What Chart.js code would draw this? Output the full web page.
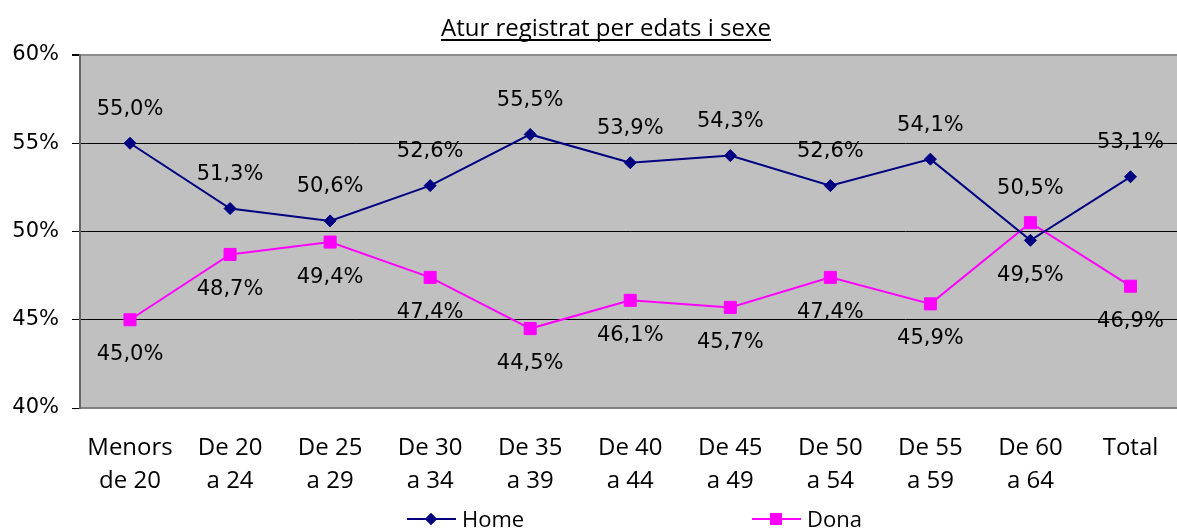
<!DOCTYPE html>
<html>
<head>
<meta charset="utf-8">
<script src="https://cdn.jsdelivr.net/npm/chart.js@4.4.1/dist/chart.umd.min.js"></script>
<style>
  html, body { margin: 0; padding: 0; background: #fff; overflow: hidden; }
  #wrap { position: relative; width: 1190px; height: 532px; }
</style>
</head>
<body>
<div id="wrap"><canvas id="chart" width="1190" height="532"></canvas></div>
<script>
var categories = [
  ['Menors', 'de 20'], ['De 20', 'a 24'], ['De 25', 'a 29'], ['De 30', 'a 34'],
  ['De 35', 'a 39'], ['De 40', 'a 44'], ['De 45', 'a 49'], ['De 50', 'a 54'],
  ['De 55', 'a 59'], ['De 60', 'a 64'], 'Total'
];
var homeValues = [55.0, 51.3, 50.6, 52.6, 55.5, 53.9, 54.3, 52.6, 54.1, 49.5, 53.1];
var donaValues = [45.0, 48.7, 49.4, 47.4, 44.5, 46.1, 45.7, 47.4, 45.9, 50.5, 46.9];
var yTicks = [40, 45, 50, 55, 60];
var chartTitle = 'Atur registrat per edats i sexe';
var seriesNames = ['Home', 'Dona'];

var NAVY = '#000080';
var MAGENTA = '#FF00FF';
var labelFont = '21px "DejaVu Sans", Verdana, sans-serif';
var textFont = '"Open Sans", sans-serif';

function fmt(v) {
  return v.toFixed(1).replace('.', ',') + '%';
}

// grey plot background
var plotBg = {
  id: 'plotBg',
  beforeDraw: function (chart) {
    var a = chart.chartArea, ctx = chart.ctx;
    ctx.save();
    ctx.fillStyle = '#C0C0C0';
    ctx.fillRect(a.left, a.top, a.right - a.left, a.bottom - a.top);
    ctx.restore();
  }
};

// value labels: Home above, Dona below (swapped where the lines cross)
var valueLabels = {
  id: 'valueLabels',
  afterDatasetsDraw: function (chart) {
    var ctx = chart.ctx;
    ctx.save();
    ctx.font = labelFont;
    ctx.fillStyle = '#000';
    ctx.textAlign = 'center';
    ctx.textBaseline = 'middle';
    chart.data.datasets.forEach(function (ds, di) {
      var meta = chart.getDatasetMeta(di);
      meta.data.forEach(function (pt, i) {
        var other = chart.data.datasets[1 - di].data[i];
        var above = ds.data[i] >= other;
        var dy = above ? -34 : 35;
        ctx.fillText(fmt(ds.data[i]), pt.x, pt.y + dy);
      });
    });
    ctx.restore();
  }
};

// underlined title and bottom legend
var titleLegend = {
  id: 'titleLegend',
  afterDraw: function (chart) {
    var ctx = chart.ctx;
    ctx.save();
    ctx.fillStyle = '#000';
    ctx.font = '500 24px ' + textFont;
    ctx.textAlign = 'center';
    ctx.textBaseline = 'alphabetic';
    var tx = 606, ty = 36;
    ctx.fillText(chartTitle, tx, ty);
    var w = ctx.measureText(chartTitle).width;
    ctx.fillRect(tx - w / 2, ty + 3, w, 2);

    var items = [
      { x: 407, color: NAVY, style: 'rectRot', r: 6, text: seriesNames[0] },
      { x: 752, color: MAGENTA, style: 'rect', r: 8.5, text: seriesNames[1] }
    ];
    var ly = 519;
    items.forEach(function (it) {
      ctx.strokeStyle = it.color;
      ctx.lineWidth = 2;
      ctx.beginPath();
      ctx.moveTo(it.x, ly);
      ctx.lineTo(it.x + 49, ly);
      ctx.stroke();
      ctx.fillStyle = it.color;
      Chart.helpers.drawPoint(ctx, { pointStyle: it.style, radius: it.r, borderWidth: 0 }, it.x + 24, ly);
      ctx.fill();
      ctx.fillStyle = '#000';
      ctx.font = '500 22px ' + textFont;
      ctx.textAlign = 'left';
      ctx.textBaseline = 'middle';
      ctx.fillText(it.text, it.x + 55, ly + 2);
    });
    ctx.restore();
  }
};

new Chart(document.getElementById('chart').getContext('2d'), {
  type: 'line',
  data: {
    labels: categories,
    datasets: [
      {
        label: seriesNames[0],
        data: homeValues,
        borderColor: NAVY,
        backgroundColor: NAVY,
        borderWidth: 2,
        pointStyle: 'rectRot',
        pointRadius: 6,
        pointBorderWidth: 1,
        tension: 0
      },
      {
        label: seriesNames[1],
        data: donaValues,
        borderColor: MAGENTA,
        backgroundColor: MAGENTA,
        borderWidth: 2,
        pointStyle: 'rect',
        pointRadius: 8.5,
        pointBorderWidth: 1,
        tension: 0
      }
    ]
  },
  options: {
    responsive: false,
    animation: false,
    layout: { padding: { top: 55, right: 6, left: 0, bottom: 0 } },
    plugins: {
      legend: { display: false },
      title: { display: false },
      tooltip: { enabled: false }
    },
    scales: {
      x: {
        offset: true,
        grid: { display: false, drawTicks: false },
        border: { display: true, color: '#808080', width: 2 },
        ticks: {
          color: '#000',
          font: { family: '"Open Sans", sans-serif', size: 24, weight: '500', lineHeight: 1.375 },
          padding: 24,
          maxRotation: 0,
          autoSkip: false
        },
        afterFit: function (s) { s.height = 124; }
      },
      y: {
        min: yTicks[0],
        max: yTicks[yTicks.length - 1],
        afterBuildTicks: function (s) {
          s.ticks = yTicks.map(function (v) { return { value: v }; });
        },
        grid: {
          color: function (c) {
            if (c.tick.value === 60) return '#8C8C8C';
            if (c.tick.value === 40) return 'rgba(0,0,0,0)';
            return '#000';
          },
          lineWidth: function (c) { return c.tick.value === 60 ? 2 : 1; },
          tickColor: '#000',
          tickLength: 8
        },
        border: { display: true, color: '#666', width: 2 },
        ticks: {
          color: '#000',
          font: { family: '"DejaVu Sans", Verdana, sans-serif', size: 21 },
          padding: 13,
          callback: function (v) { return v + '%'; }
        },
        afterFit: function (s) { s.width = 80; }
      }
    }
  },
  plugins: [plotBg, valueLabels, titleLegend]
});
</script>
</body>
</html>
